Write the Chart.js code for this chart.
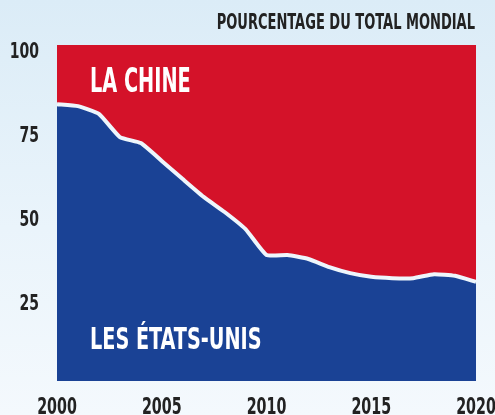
<!DOCTYPE html>
<html>
<head>
<meta charset="utf-8">
<script src="https://cdn.jsdelivr.net/npm/chart.js@4"></script>
<style>
  html, body { margin: 0; padding: 0; }
  body {
    width: 495px; height: 415px; overflow: hidden;
    background: linear-gradient(to bottom, #dbecf7 0%, #eaf4fb 55%, #f4f9fd 100%);
  }
  #wrap { position: relative; width: 495px; height: 415px; }
</style>
</head>
<body>
<div id="wrap"><canvas id="chart"></canvas></div>
<script>
// données (part du total mondial, %)
const years = [2000, 2001, 2002, 2003, 2004, 2005, 2006, 2007, 2008, 2009, 2010,
               2011, 2012, 2013, 2014, 2015, 2016, 2017, 2018, 2019, 2020];
const usShare = [82.4, 81.8, 79.5, 72.6, 70.8, 65.5, 60.1, 54.8, 50.3, 45.2, 37.5,
                 37.5, 36.3, 33.9, 32.1, 31.0, 30.6, 30.6, 31.8, 31.3, 29.5];
const chinaShare = [17.6, 18.2, 20.5, 27.4, 29.2, 34.5, 39.9, 45.2, 49.7, 54.8, 62.5,
                    62.5, 63.7, 66.1, 67.9, 69.0, 69.4, 69.4, 68.2, 68.7, 70.5];
const xTicks = [2000, 2005, 2010, 2015, 2020];
const yTicks = [25, 50, 75, 100];

const FONT = "'DejaVu Sans Condensed', 'DejaVu Sans', sans-serif";
const BLUE = '#1a4295';
const RED = '#d41229';
const INK = '#222';

// texte condensé (style affiche)
function drawNarrow(ctx, text, x, y, size, sx, color, align) {
  ctx.save();
  ctx.font = 'bold ' + size + 'px ' + FONT;
  ctx.fillStyle = color;
  ctx.textAlign = align || 'left';
  ctx.textBaseline = 'alphabetic';
  ctx.translate(x, y);
  ctx.scale(sx, 1);
  ctx.fillText(text, 0, 0);
  ctx.restore();
}

const labelsPlugin = {
  id: 'labels',
  afterDraw(chart) {
    const ctx = chart.ctx;
    const a = chart.chartArea;
    const xs = chart.scales.x;
    const ys = chart.scales.y;

    // graduations (police condensée)
    xTicks.forEach(yr => {
      const px = xs.getPixelForValue(years.indexOf(yr));
      drawNarrow(ctx, String(yr), px, 414, 23, 0.69, INK, 'center');
    });
    yTicks.forEach(v => {
      const py = ys.getPixelForValue(v) + 5;
      drawNarrow(ctx, String(v), a.left - 18, py + 7.5, 21, 0.74, INK, 'right');
    });

    drawNarrow(ctx, 'POURCENTAGE DU TOTAL MONDIAL', a.right - 1, 29, 21, 0.69, INK, 'right');
    drawNarrow(ctx, 'LA CHINE', a.left + 33, 92, 33, 0.65, '#fff');
    drawNarrow(ctx, 'LES ÉTATS-UNIS', a.left + 33, 349, 31, 0.69, '#fff');
  }
};

new Chart(document.getElementById('chart'), {
  type: 'line',
  data: {
    labels: years,
    datasets: [
      {
        label: 'Les États-Unis',
        data: usShare,
        fill: 'origin',
        backgroundColor: BLUE,
        borderColor: '#eef6fc',
        borderWidth: 4,
        tension: 0.15,
        pointRadius: 0
      },
      {
        label: 'La Chine',
        data: chinaShare,
        fill: '-1',
        backgroundColor: RED,
        borderWidth: 0,
        pointRadius: 0
      }
    ]
  },
  options: {
    responsive: true,
    maintainAspectRatio: false,
    animation: false,
    layout: { padding: { top: 45, right: 19, left: 0, bottom: 0 } },
    plugins: {
      legend: { display: false },
      tooltip: { enabled: false }
    },
    scales: {
      x: {
        offset: false,
        grid: { display: false, drawTicks: false },
        border: { display: false },
        ticks: { display: false },
        afterFit(scale) {
          scale.height = 34;
          scale.paddingLeft = 0;
          scale.paddingRight = 0;
        }
      },
      y: {
        stacked: true,
        min: 0,
        max: 100,
        grid: { display: false, drawTicks: false },
        border: { display: false },
        ticks: { display: false },
        afterFit(scale) {
          scale.width = 57;
          scale.paddingTop = 0;
          scale.paddingBottom = 0;
        }
      }
    }
  },
  plugins: [labelsPlugin]
});
</script>
</body>
</html>
